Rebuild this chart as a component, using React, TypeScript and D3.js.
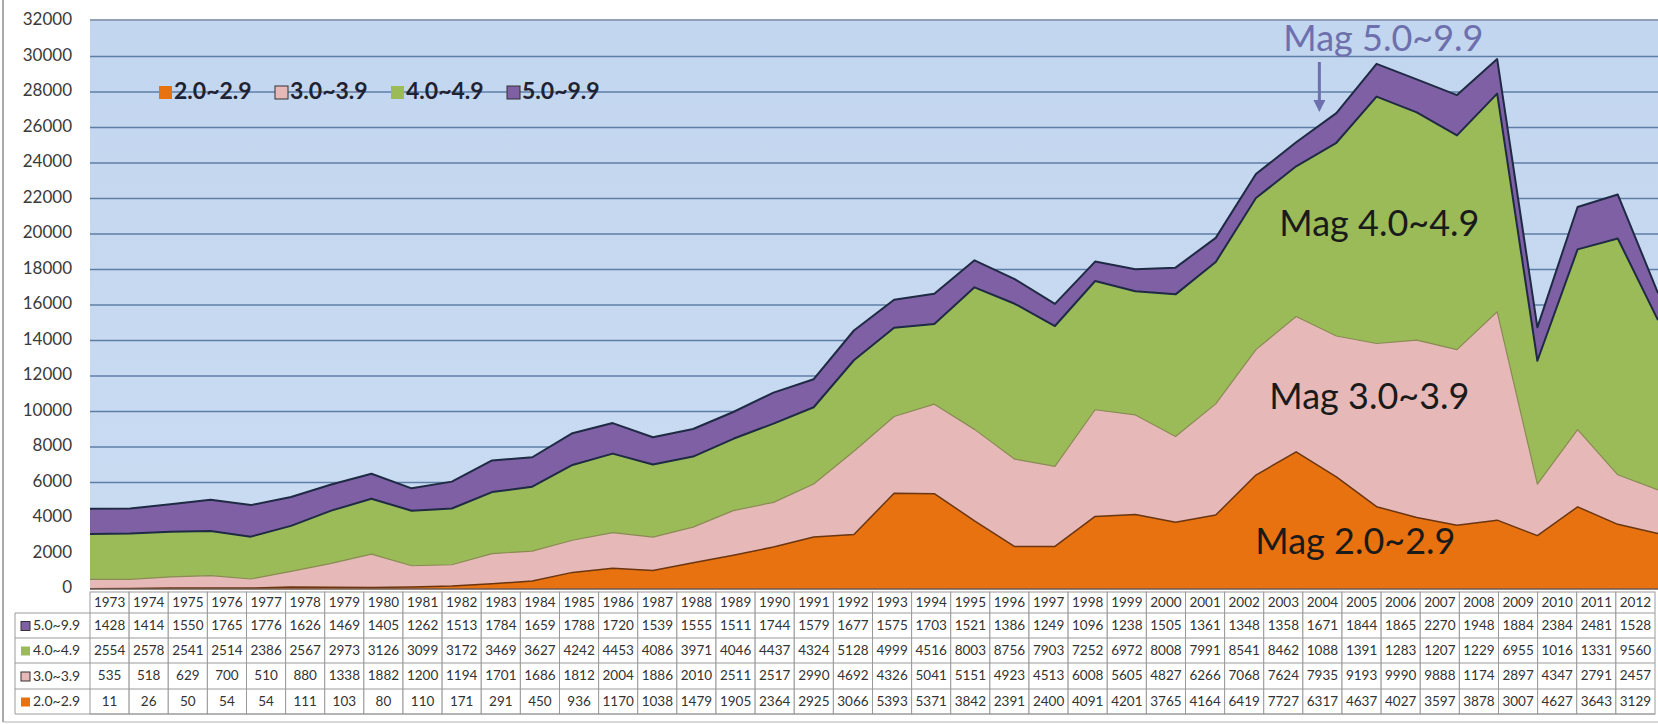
import React from "react";
import * as d3 from "d3";

const years = [
  "1973","1974","1975","1976","1977","1978","1979","1980","1981","1982",
  "1983","1984","1985","1986","1987","1988","1989","1990","1991","1992",
  "1993","1994","1995","1996","1997","1998","1999","2000","2001","2002",
  "2003","2004","2005","2006","2007","2008","2009","2010","2011","2012",
];

const mag2 = [11, 26, 50, 54, 54, 111, 103, 80, 110, 171, 291, 450, 936, 1170, 1038, 1479, 1905, 2364, 2925, 3066, 5393, 5371, 3842, 2391, 2400, 4091, 4201, 3765, 4164, 6419, 7727, 6317, 4637, 4027, 3597, 3878, 3007, 4627, 3643, 3129];
const mag3 = [535, 518, 629, 700, 510, 880, 1338, 1882, 1200, 1194, 1701, 1686, 1812, 2004, 1886, 2010, 2511, 2517, 2990, 4692, 4326, 5041, 5151, 4923, 4513, 6008, 5605, 4827, 6266, 7068, 7624, 7935, 9193, 9990, 9888, 11740, 2897, 4347, 2791, 2457];
const mag4 = [2554, 2578, 2541, 2514, 2386, 2567, 2973, 3126, 3099, 3172, 3469, 3627, 4242, 4453, 4086, 3971, 4046, 4437, 4324, 5128, 4999, 4516, 8003, 8756, 7903, 7252, 6972, 8008, 7991, 8541, 8462, 10888, 13913, 12833, 12070, 12290, 6955, 10160, 13310, 9560];
const mag5 = [1428, 1414, 1550, 1765, 1776, 1626, 1469, 1405, 1262, 1513, 1784, 1659, 1788, 1720, 1539, 1555, 1511, 1744, 1579, 1677, 1575, 1703, 1521, 1386, 1249, 1096, 1238, 1505, 1361, 1348, 1358, 1671, 1844, 1865, 2270, 1948, 1884, 2384, 2481, 1528];

const seriesKeys = ["m2", "m3", "m4", "m5"];
const seriesLabels = ["2.0~2.9", "3.0~3.9", "4.0~4.9", "5.0~9.9"];
const seriesValues = [mag2, mag3, mag4, mag5];
const seriesColors = ["#e8720f", "#e6b9b8", "#9bbb59", "#7f60a5"];
const seriesLines = ["#6b3510", "#8a8a52", "#1f2a44", "#1f2a44"];
const seriesLineW = [1.5, 1.2, 2, 2];
const legendMarkStroke = ["none", "#333", "none", "#333"];

const yTicks = [0, 2000, 4000, 6000, 8000, 10000, 12000, 14000, 16000, 18000, 20000, 22000, 24000, 26000, 28000, 30000, 32000];

const annotationTexts = ["Mag 5.0~9.9", "Mag 4.0~4.9", "Mag 3.0~3.9", "Mag 2.0~2.9"];

const W = 1658;
const H = 724;
const plotL = 90;
const plotR = 1658;
const plotT = 21;
const plotB = 589;
const FONT = "Lato, 'Open Sans', sans-serif";

const rowEdges = [592, 613, 638, 663, 689, 714];
const tableLeft = 90;
const tableRight = 1655;
const rowLabelLeft = 15;

function cellText(v: number) {
  return String(v).slice(0, 4);
}

export default function App() {
  const rows = years.map((yr, i) => ({
    year: yr,
    m2: mag2[i],
    m3: mag3[i],
    m4: mag4[i],
    m5: mag5[i],
  }));
  const stack = d3.stack<any>().keys(seriesKeys);
  const layers = stack(rows);

  const x = d3.scalePoint<string>().domain(years).range([plotL, plotR]);
  const y = d3.scaleLinear().domain([0, 32000]).range([plotB, plotT]);
  const col = d3.scaleBand<string>().domain(years).range([tableLeft, tableRight]);

  const area = d3
    .area<any>()
    .x((d) => x(d.data.year) as number)
    .y0((d) => y(d[0]))
    .y1((d) => y(d[1]));
  const topLine = d3
    .line<any>()
    .x((d) => x(d.data.year) as number)
    .y((d) => y(d[1]));

  const tableOrder = [3, 2, 1, 0];

  const ax = x("2004") as number;
  const annPos = [
    { dx: -53, v: 30800, color: "#6d70ad" },
    { dx: -57, v: 20400, color: "#1a1a1a" },
    { dx: -67, v: 10650, color: "#1a1a1a" },
    { dx: -81, v: 2480, color: "#1a1a1a" },
  ];
  const arrowX = ax - 17;

  return (
    <svg
      width={W}
      height={H}
      style={{ position: "absolute", left: 0, top: 0, background: "#fff" }}
      fontFamily={FONT}
    >
      <defs>
        <clipPath id="plotclip">
          <rect x={plotL} y={plotT - 2} width={plotR - plotL} height={plotB - plotT + 2} />
        </clipPath>
        <linearGradient id="bg" x1="0" y1="0" x2="0" y2="1">
          <stop offset="0" stopColor="#c3d6ef" />
          <stop offset="1" stopColor="#c9dcf2" />
        </linearGradient>
      </defs>

      <line x1={3} y1={0} x2={3} y2={722} stroke="#8c8c8c" strokeWidth={1.5} />
      <line x1={3} y1={722} x2={W} y2={722} stroke="#b0b0b0" strokeWidth={1} />

      <rect x={plotL} y={plotT} width={plotR - plotL} height={plotB - plotT} fill="url(#bg)" />
      <line x1={plotL} y1={plotT - 1} x2={plotR} y2={plotT - 1} stroke="#8fa0b4" strokeWidth={2} />

      {yTicks.slice(1, -1).map((t) => (
        <line key={t} x1={plotL} x2={plotR} y1={y(t)} y2={y(t)} stroke="#5f7ea6" strokeWidth={1.6} />
      ))}

      {yTicks.map((t) => (
        <text
          key={t}
          x={72}
          y={y(t)}
          textAnchor="end"
          dominantBaseline="middle"
          fontSize={17}
          fill="#3a3a3a"
        >
          {t}
        </text>
      ))}

      <g clipPath="url(#plotclip)">
        {layers.map((layer, i) => (
          <path key={"a" + i} d={area(layer) as string} fill={seriesColors[i]} />
        ))}
        {layers.map((layer, i) => (
          <path
            key={"l" + i}
            d={topLine(layer) as string}
            fill="none"
            stroke={seriesLines[i]}
            strokeWidth={seriesLineW[i]}
            strokeLinejoin="round"
          />
        ))}
      </g>
      <line x1={plotL} x2={plotR} y1={plotB} y2={plotB} stroke="#6b5a55" strokeWidth={1.5} />

      {seriesLabels.map((lab, i) => {
        const lx = 159 + i * 116;
        return (
          <g key={lab}>
            <rect
              x={lx}
              y={86}
              width={13}
              height={13}
              fill={seriesColors[i]}
              stroke={legendMarkStroke[i]}
              strokeWidth={1}
            />
            <text x={lx + 15} y={93} dominantBaseline="middle" fontSize={23} fontWeight="bold" fill="#1f2233">
              {lab}
            </text>
          </g>
        );
      })}

      {annotationTexts.map((t, i) => (
        <text
          key={i}
          x={ax + annPos[i].dx}
          y={y(annPos[i].v)}
          fontSize={36}
          fill={annPos[i].color}
          dominantBaseline="middle"
        >
          {t}
        </text>
      ))}
      <line x1={arrowX} x2={arrowX} y1={62} y2={102} stroke="#6d70ad" strokeWidth={3} />
      <path d={`M${arrowX - 6},${100} L${arrowX + 6},${100} L${arrowX},${112} Z`} fill="#6d70ad" />

      <g fontSize={13.5} fill="#333">
        {years.map((yr) => (
          <g key={yr}>
            <rect
              x={col(yr)}
              y={rowEdges[0]}
              width={col.bandwidth()}
              height={rowEdges[rowEdges.length - 1] - rowEdges[0]}
              fill="#fff"
              stroke="#9a9a9a"
              strokeWidth={1}
            />
            <text
              x={(col(yr) as number) + col.bandwidth() / 2}
              y={(rowEdges[0] + rowEdges[1]) / 2 + 1}
              textAnchor="middle"
              dominantBaseline="middle"
            >
              {yr}
            </text>
          </g>
        ))}
        {rowEdges.slice(1).map((e, k) => (
          <line key={k} x1={rowLabelLeft} x2={tableRight} y1={e} y2={e} stroke="#9a9a9a" strokeWidth={1} />
        ))}
        <line x1={rowLabelLeft} x2={rowLabelLeft} y1={rowEdges[1]} y2={rowEdges[5]} stroke="#9a9a9a" />
        {tableOrder.map((si, r) => {
          const cy = (rowEdges[r + 1] + rowEdges[r + 2]) / 2 + 1;
          return (
            <g key={si}>
              <rect
                x={rowLabelLeft + 6}
                y={cy - 5}
                width={9}
                height={9}
                fill={seriesColors[si]}
                stroke={legendMarkStroke[si]}
                strokeWidth={1}
              />
              <text x={rowLabelLeft + 18} y={cy} dominantBaseline="middle" fontSize={14}>
                {seriesLabels[si]}
              </text>
              {years.map((yr, j) => (
                <text
                  key={yr}
                  x={(col(yr) as number) + col.bandwidth() / 2}
                  y={cy}
                  textAnchor="middle"
                  dominantBaseline="middle"
                >
                  {cellText(seriesValues[si][j])}
                </text>
              ))}
            </g>
          );
        })}
      </g>
    </svg>
  );
}
